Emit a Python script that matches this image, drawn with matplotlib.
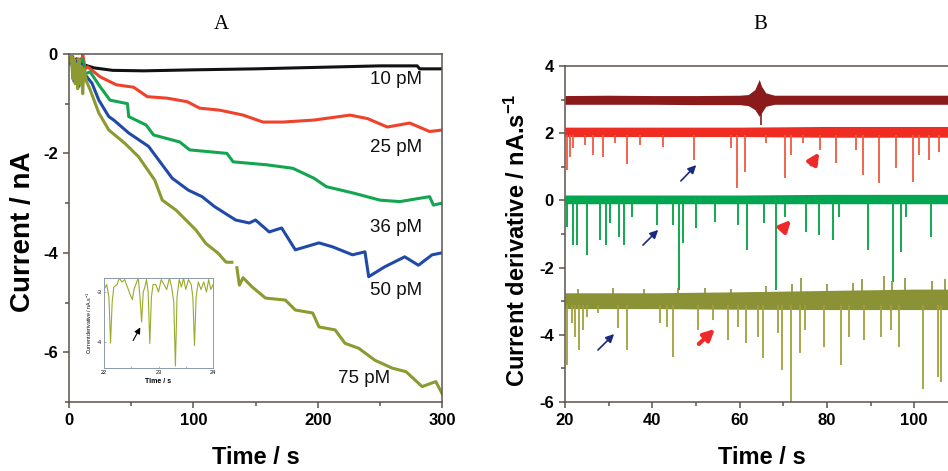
import numpy as np
import matplotlib.pyplot as plt
from matplotlib.ticker import MultipleLocator

plt.rcParams['font.family'] = ['Liberation Sans', 'DejaVu Sans']
plt.rcParams['mathtext.default'] = 'regular'
plt.rcParams['axes.unicode_minus'] = False

# ---------------- panel A : current traces (time s, current nA)
t_10 = [0, 2, 4, 6, 8, 10, 12, 20, 35, 60, 100, 150, 200, 250, 280, 282, 300]
i_10 = [-0.15, -0.05, -0.3, -0.1, -0.25, -0.1, -0.22, -0.28, -0.33, -0.34, -0.32,
        -0.3, -0.27, -0.24, -0.24, -0.3, -0.3]

t_25 = [0, 3, 5, 7, 9, 11, 13, 15, 25, 38, 52, 63, 79, 95, 105, 121, 140, 156, 172,
        197, 226, 240, 256, 274, 290, 300]
i_25 = [-0.2, -0.05, -0.4, -0.1, -0.5, 0.0, -0.3, -0.26, -0.46, -0.62, -0.67, -0.86,
        -0.89, -0.96, -1.09, -1.13, -1.23, -1.37, -1.37, -1.33, -1.23, -1.3, -1.47,
        -1.39, -1.56, -1.53]

t_36 = [0, 3, 5, 7, 9, 11, 13, 17, 25, 33, 47, 48, 62, 68, 89, 97, 127, 132, 159,
        180, 197, 207, 229, 250, 266, 290, 293, 300]
i_36 = [-0.2, -0.1, -0.5, -0.15, -0.6, -0.1, -0.4, -0.36, -0.66, -0.93, -1.0, -1.26,
        -1.43, -1.63, -1.77, -1.93, -2.0, -2.17, -2.23, -2.3, -2.5, -2.67, -2.8,
        -2.94, -2.97, -2.87, -3.04, -3.0]

t_50 = [0, 2, 4, 6, 8, 10, 12, 14, 18.5, 24, 32, 36, 48, 64, 72, 83, 96, 107, 117,
        134, 145, 150, 161, 171, 182, 201, 212, 228, 238, 241, 254, 270, 281, 292, 300]
i_50 = [-0.15, -0.1, -0.55, -0.15, -0.65, -0.2, -0.5, -0.45, -0.59, -0.93, -1.26,
        -1.33, -1.59, -1.86, -2.13, -2.5, -2.74, -2.87, -3.07, -3.34, -3.4, -3.34,
        -3.58, -3.5, -3.94, -3.8, -3.88, -4.04, -3.98, -4.48, -4.28, -4.08, -4.25,
        -4.04, -4.0]

t_75 = [0, 2, 3, 4, 5, 6, 7, 8, 9, 10, 11, 12, 14, 17, 24, 32, 45, 56, 69, 75, 86,
        102, 110, 120, 126, 127, 131]
i_75 = [-0.15, -0.05, -0.5, -0.1, -0.6, -0.2, -0.7, -0.1, -0.6, -0.25, -0.8, -0.3,
        -0.55, -0.72, -1.19, -1.53, -1.8, -2.07, -2.54, -2.94, -3.14, -3.54, -3.81,
        -4.01, -4.18, -4.19, -4.19]
t_75b = [135, 137, 140, 147, 158, 174, 182, 196, 201, 214, 222, 233, 246, 260, 271,
         284, 295, 300]
i_75b = [-4.3, -4.65, -4.5, -4.68, -4.91, -4.95, -5.15, -5.21, -5.49, -5.55, -5.82,
         -5.92, -6.16, -6.32, -6.39, -6.69, -6.59, -6.83]

conc_labels = ['10 pM', '25 pM', '36 pM', '50 pM', '75 pM']
label_xy = [(263, -0.52), (263, -1.88), (263, -3.5), (263, -4.75), (237, -6.52)]

# inset of panel A (time s, derivative nA/s)
t_ins = [22.0, 22.05, 22.09, 22.12, 22.15, 22.18, 22.24, 22.28, 22.33, 22.38, 22.43,
         22.48, 22.52, 22.55, 22.6, 22.63, 22.66, 22.69, 22.72, 22.75, 22.78, 22.81,
         22.84, 22.87, 22.9, 22.95, 23.0, 23.05, 23.1, 23.15, 23.2, 23.24, 23.28,
         23.31, 23.34, 23.38, 23.42, 23.46, 23.5, 23.55, 23.6, 23.63, 23.66, 23.69,
         23.73, 23.78, 23.83, 23.88, 23.92, 23.96, 24.0]
d_ins = [-2.95, -2.85, -3.1, -4.02, -3.2, -2.9, -2.85, -2.72, -2.8, -2.75, -2.9,
         -3.05, -3.15, -2.95, -2.8, -2.72, -3.1, -3.6, -3.0, -2.9, -2.75, -3.0,
         -4.03, -3.1, -2.85, -2.85, -3.0, -2.75, -2.85, -2.95, -2.72, -2.9, -3.2,
         -4.48, -3.1, -2.75, -2.9, -2.72, -2.95, -2.75, -2.85, -3.1, -4.07, -3.1,
         -2.8, -2.95, -2.8, -3.0, -2.75, -2.95, -2.85]

# ---------------- panel B : derivative traces (time s, nA/s)
env_t = [20, 30, 40, 50, 60, 62, 63.5, 64.5, 65, 66, 68, 80, 95, 110]
dr_hi = [3.12, 3.13, 3.12, 3.12, 3.13, 3.15, 3.3, 3.6, 3.4, 3.2, 3.13, 3.13, 3.13, 3.13]
dr_lo = [2.86, 2.86, 2.86, 2.85, 2.85, 2.82, 2.7, 2.5, 2.6, 2.8, 2.86, 2.86, 2.86, 2.86]
dr_dip_t = [64.8]
dr_dip_v = [2.25]

band_t = [20, 40, 60, 80, 100, 110]
red_hi = [2.18, 2.18, 2.18, 2.2, 2.2, 2.2]
red_lo = [1.9, 1.9, 1.9, 1.88, 1.88, 1.88]
red_spk_t = [20.5, 21.1, 21.9, 24.6, 26.5, 28.8, 31.5, 34.3, 37.2, 42.5, 49.5, 58.1,
             59.3, 61.2, 66.0, 70.3, 71.8, 74.5, 78.4, 82.1, 86.7, 88.2, 92.0, 95.8,
             99.7, 101.2, 103.5, 105.7]
red_spk_v = [0.9, 1.3, 1.56, 1.65, 1.35, 1.3, 1.7, 1.08, 1.65, 1.6, 1.2, 1.55, 0.36,
             0.85, 1.7, 0.66, 1.35, 1.7, 1.5, 1.1, 1.5, 0.76, 0.51, 0.96, 0.56, 1.35,
             1.2, 1.45]

grn_hi = [0.16, 0.16, 0.16, 0.18, 0.18, 0.18]
grn_lo = [-0.1, -0.1, -0.1, -0.1, -0.1, -0.1]
grn_spk_t = [20.4, 21.9, 22.7, 25.1, 28.0, 29.5, 30.3, 32.4, 33.5, 35.3, 41.0, 44.8,
             46.2, 47.1, 50.1, 54.3, 59.6, 61.8, 65.7, 68.4, 70.3, 75.3, 78.3, 81.3,
             82.8, 89.4, 95.1, 97.0, 98.1, 103.9]
grn_spk_v = [-0.78, -1.33, -1.33, -1.63, -1.18, -1.33, -0.68, -1.08, -1.33, -0.48,
             -0.73, -0.73, -2.67, -1.28, -0.83, -0.63, -0.73, -1.48, -0.68, -2.67,
             -0.48, -0.93, -1.03, -1.18, -0.48, -1.48, -2.42, -1.53, -0.48, -1.08]

olv_hi = [-2.75, -2.75, -2.72, -2.68, -2.64, -2.64]
olv_lo = [-3.22, -3.22, -3.24, -3.25, -3.25, -3.25]
olv_up_t = [23, 31, 38, 46, 52, 58, 66, 72, 74, 80, 86, 88, 93, 95, 98, 104, 107]
olv_up_v = [-2.65, -2.6, -2.65, -2.6, -2.62, -2.65, -2.55, -2.5, -2.3, -2.5, -2.45,
            -2.35, -2.25, -2.4, -2.3, -2.4, -2.35]
olv_spk_t = [20.4, 21.5, 22.3, 23.3, 24.2, 25.0, 27.6, 32.2, 34.1, 41.8, 43.3, 44.8,
             50.5, 53.9, 57.3, 59.6, 61.5, 64.2, 65.4, 68.8, 69.8, 71.8, 73.8, 74.9,
             79.4, 83.2, 85.1, 88.6, 92.4, 94.7, 96.6, 101.9, 105.4, 106.1]
olv_spk_v = [-4.9, -3.66, -4.06, -4.45, -3.86, -3.46, -3.36, -3.8, -4.45, -3.66,
             -3.76, -4.65, -3.86, -3.56, -4.15, -3.76, -4.25, -4.06, -4.7, -3.96,
             -5.05, -6.1, -4.55, -3.86, -4.35, -4.9, -4.06, -4.15, -4.06, -3.86,
             -4.35, -5.6, -5.25, -5.4]

# arrows (tail x, tail y, head x, head y)
blue_arrows = [(46.1, 0.52, 50.5, 1.11), (37.4, -1.39, 41.8, -0.82),
               (27.1, -4.51, 31.7, -3.92)]
red_arrows = [(76.1, 1.0, 78.6, 1.5), (69.7, -0.88, 72.2, -0.52),
              (50.2, -4.33, 54.8, -3.77)]

spine_col = '#5a534e'


def style_axes(ax):
	for s in ax.spines.values():
		s.set_color(spine_col)
		s.set_linewidth(1.1)
	ax.tick_params(which='both', direction='out', color=spine_col, width=1.1,
				   labelsize=12)
	ax.tick_params(which='major', length=4.5)
	ax.tick_params(which='minor', length=3)
	for lab in ax.get_xticklabels() + ax.get_yticklabels():
		lab.set_fontweight('bold')


fig = plt.figure(figsize=(9.48, 4.71), dpi=100)

# ---- panel A
axA = fig.add_axes([0.0728, 0.1465, 0.3935, 0.739])
axA.plot(t_10, i_10, color='#111111', lw=2.2)
axA.plot(t_25, i_25, color='#f0412b', lw=2.2)
axA.plot(t_36, i_36, color='#12a650', lw=2.2)
axA.plot(t_50, i_50, color='#1f4aa8', lw=2.2)
axA.plot(t_75, i_75, color='#8c9a30', lw=2.2)
axA.plot(t_75b, i_75b, color='#8c9a30', lw=2.2)
axA.set_xlim(0, 300)
axA.set_ylim(-7, 0)
axA.xaxis.set_major_locator(MultipleLocator(100))
axA.xaxis.set_minor_locator(MultipleLocator(50))
axA.yaxis.set_major_locator(MultipleLocator(2))
axA.yaxis.set_minor_locator(MultipleLocator(1))
style_axes(axA)
for lab, (x, y) in zip(conc_labels, label_xy):
	axA.text(x, y, lab, fontsize=13.5, ha='center', va='center', color='#111111')

# inset
axI = fig.add_axes([0.1097, 0.2187, 0.115, 0.191])
axI.plot(t_ins, d_ins, color='#9aaa2a', lw=0.8)
axI.set_xlim(22, 24)
axI.set_ylim(-4.52, -2.72)
axI.set_xticks([22, 23, 24])
axI.set_yticks([-3, -4])
axI.set_xticks([22.5, 23.5], minor=True)
for s in axI.spines.values():
	s.set_color('#8a9aaa')
	s.set_linewidth(0.7)
axI.tick_params(which='both', direction='in', length=1.5, width=0.5, labelsize=4,
				pad=1.5, color='#8a9aaa')
axI.set_xlabel('Time / s', fontsize=5, fontweight='bold', labelpad=2)
axI.set_ylabel('Current derivative / nA.s$^{-1}$', fontsize=3.8, labelpad=2)
axI.annotate('', xy=(22.69, -3.66), xytext=(22.51, -4.02),
			 arrowprops=dict(arrowstyle='-|>', color='black', lw=0.8,
							 mutation_scale=9))

# ---- panel B (cut at the right edge of the figure)
axB = fig.add_axes([0.596, 0.1465, 0.4144, 0.7134])
axB.fill_between(env_t, dr_lo, dr_hi, color='#8b1a1a', lw=0)
axB.vlines(dr_dip_t, 2.9, dr_dip_v, color='#8b1a1a', lw=1.2)
axB.fill_between(band_t, red_lo, red_hi, color='#ee2c22', lw=0)
axB.vlines(red_spk_t, 1.95, red_spk_v, color='#f2583f', lw=1.3)
axB.fill_between(band_t, grn_lo, grn_hi, color='#00a651', lw=0)
axB.vlines(grn_spk_t, 0.0, grn_spk_v, color='#10a84e', lw=1.4)
axB.fill_between(band_t, olv_lo, olv_hi, color='#8a9235', lw=0)
axB.vlines(olv_up_t, -2.9, olv_up_v, color='#8a9235', lw=1.2)
axB.vlines(olv_spk_t, -3.1, olv_spk_v, color='#a0a03c', lw=1.3)
for x0, y0, x1, y1 in blue_arrows:
	axB.annotate('', xy=(x1, y1), xytext=(x0, y0),
				 arrowprops=dict(arrowstyle='-|>', color='#1a2a80', lw=1.2,
								 mutation_scale=12))
for x0, y0, x1, y1 in red_arrows:
	axB.annotate('', xy=(x1, y1), xytext=(x0, y0),
				 arrowprops=dict(arrowstyle='-|>', color='#ee2a2a', lw=3,
								 mutation_scale=16))
axB.set_xlim(20, 110)
axB.set_ylim(-6, 4)
axB.xaxis.set_major_locator(MultipleLocator(20))
axB.xaxis.set_minor_locator(MultipleLocator(10))
axB.yaxis.set_major_locator(MultipleLocator(2))
axB.yaxis.set_minor_locator(MultipleLocator(1))
style_axes(axB)

# titles and axis labels
fig.text(0.234, 0.947, 'A', fontsize=15, family='Liberation Serif', ha='center', va='center')
fig.text(0.8024, 0.947, 'B', fontsize=15, family='Liberation Serif', ha='center', va='center')
fig.text(0.024, 0.507, 'Current / nA', fontsize=20, fontweight='bold', rotation=90,
		 ha='center', va='center')
fig.text(0.27, 0.028, 'Time / s', fontsize=17, fontweight='bold', ha='center', va='center')
fig.text(0.546, 0.49, 'Current derivative / nA.s$^{-1}$', fontsize=17,
		 fontweight='bold', rotation=90, ha='center', va='center')
fig.text(0.804, 0.028, 'Time / s', fontsize=17, fontweight='bold', ha='center', va='center')

fig.savefig('out.png', dpi=100)
